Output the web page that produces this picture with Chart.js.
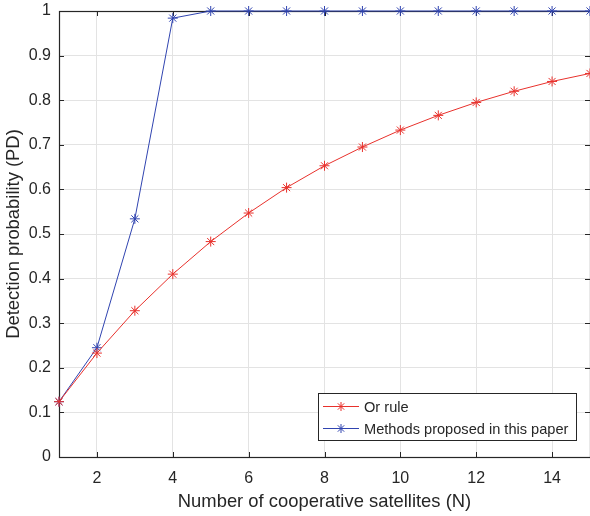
<!DOCTYPE html>
<html>
<head>
<meta charset="utf-8">
<script src="https://cdn.jsdelivr.net/npm/chart.js@4.4.1/dist/chart.umd.min.js"></script>
<style>
  html, body { margin: 0; padding: 0; background: #fff; overflow: hidden; }
  canvas { display: block; }
</style>
</head>
<body>
<canvas id="pdChart" width="596" height="516"></canvas>
<script>
// number of cooperative satellites
const satellites = [1, 2, 3, 4, 5, 6, 7, 8, 9, 10, 11, 12, 13, 14, 15];
// detection probability
const orRule = [0.124, 0.233, 0.328, 0.410, 0.483, 0.547, 0.604, 0.653, 0.695, 0.733, 0.766, 0.795, 0.820, 0.842, 0.860];
const proposed = [0.124, 0.245, 0.534, 0.984, 1, 1, 1, 1, 1, 1, 1, 1, 1, 1, 1];
const xTicks = [2, 4, 6, 8, 10, 12, 14];

const fontName = "'Liberation Sans', Arial, sans-serif";

// inward tick marks and the box around the plot, MATLAB style
const boxTicks = {
    id: "boxTicks",
    beforeDatasetsDraw(chart) {
        const ctx = chart.ctx;
        const a = chart.chartArea;
        const xs = chart.scales.x, ys = chart.scales.y;
        ctx.save();
        ctx.strokeStyle = "#262626";
        ctx.lineWidth = 1;
        ctx.beginPath();
        xs.ticks.forEach(t => {
            const px = Math.round(xs.getPixelForValue(t.value)) + 0.5;
            ctx.moveTo(px, a.bottom); ctx.lineTo(px, a.bottom - 5);
            ctx.moveTo(px, a.top); ctx.lineTo(px, a.top + 5);
        });
        ys.ticks.forEach(t => {
            const py = Math.round(ys.getPixelForValue(t.value)) + 0.5;
            ctx.moveTo(a.left, py); ctx.lineTo(a.left + 5, py);
            ctx.moveTo(a.right, py); ctx.lineTo(a.right - 5, py);
        });
        ctx.stroke();
        ctx.lineWidth = 1.2;
        ctx.strokeRect(Math.round(a.left) + 0.5, Math.round(a.top) + 0.5, Math.round(a.right - a.left), Math.round(a.bottom - a.top));
        ctx.restore();
    }
};

// legend box in the lower right corner of the plot
const boxLegend = {
    id: "boxLegend",
    afterDraw(chart) {
        const ctx = chart.ctx;
        const x0 = 318, y0 = 393, w = 258, h = 47;
        ctx.save();
        ctx.fillStyle = "#fff";
        ctx.fillRect(x0, y0, w, h);
        ctx.strokeStyle = "#262626";
        ctx.lineWidth = 1;
        ctx.strokeRect(x0 + 0.5, y0 + 0.5, w, h);
        ctx.font = "14.6px " + fontName;
        ctx.textBaseline = "middle";
        chart.data.datasets.forEach((ds, i) => {
            const y = y0 + 13.5 + i * 22;
            ctx.strokeStyle = ds.borderColor;
            ctx.lineWidth = 1;
            ctx.beginPath();
            ctx.moveTo(323, y); ctx.lineTo(359, y);
            ctx.stroke();
            // asterisk
            const r = 4.5;
            ctx.beginPath();
            ctx.moveTo(341 - r, y); ctx.lineTo(341 + r, y);
            ctx.moveTo(341, y - r); ctx.lineTo(341, y + r);
            const d = r * 0.7071;
            ctx.moveTo(341 - d, y - d); ctx.lineTo(341 + d, y + d);
            ctx.moveTo(341 - d, y + d); ctx.lineTo(341 + d, y - d);
            ctx.stroke();
            ctx.fillStyle = "#262626";
            ctx.fillText(ds.label, 364, y + 1);
        });
        ctx.restore();
    }
};

new Chart(document.getElementById("pdChart"), {
    type: "line",
    data: {
        datasets: [
            {
                label: "Or rule",
                data: satellites.map((n, i) => ({ x: n, y: orRule[i] })),
                borderColor: "#e8312c",
                backgroundColor: "#e8312c",
                borderWidth: 1,
                pointStyle: "star",
                pointRadius: 5,
                pointBorderWidth: 1,
                clip: false,
                tension: 0
            },
            {
                label: "Methods proposed in this paper",
                data: satellites.map((n, i) => ({ x: n, y: proposed[i] })),
                borderColor: "#3044b0",
                backgroundColor: "#3044b0",
                borderWidth: 1,
                pointStyle: "star",
                pointRadius: 5,
                pointBorderWidth: 1,
                clip: false,
                tension: 0
            }
        ]
    },
    options: {
        responsive: false,
        animation: false,
        layout: { padding: { top: 11, right: 3, left: 0, bottom: 0 } },
        plugins: {
            legend: { display: false },
            tooltip: { enabled: false }
        },
        scales: {
            x: {
                type: "linear",
                min: 1,
                max: 15,
                afterBuildTicks: s => { s.ticks = xTicks.map(v => ({ value: v })); },
                afterFit: s => { s.height = 59; s.paddingLeft = 0; s.paddingRight = 0; },
                grid: { color: "#e3e3e3", drawTicks: false },
                border: { display: false },
                ticks: {
                    padding: 12,
                    color: "#262626",
                    font: { family: fontName, size: 16 }
                },
                title: {
                    display: true,
                    text: "Number of cooperative satellites (N)",
                    color: "#262626",
                    font: { family: fontName, size: 18.4 },
                    padding: { top: 0, bottom: 3 }
                }
            },
            y: {
                min: 0,
                max: 1,
                afterFit: s => { s.width = 59; s.paddingTop = 0; s.paddingBottom = 0; },
                grid: { color: "#e3e3e3", drawTicks: false },
                border: { display: false },
                ticks: {
                    stepSize: 0.1,
                    padding: 8,
                    color: "#262626",
                    font: { family: fontName, size: 16 },
                    callback: v => String(Math.round(v * 10) / 10)
                },
                title: {
                    display: true,
                    text: "Detection probability (PD)",
                    color: "#262626",
                    font: { family: fontName, size: 18.4 },
                    padding: { top: 3, bottom: 0 }
                }
            }
        }
    },
    plugins: [boxTicks, boxLegend]
});
</script>
</body>
</html>
